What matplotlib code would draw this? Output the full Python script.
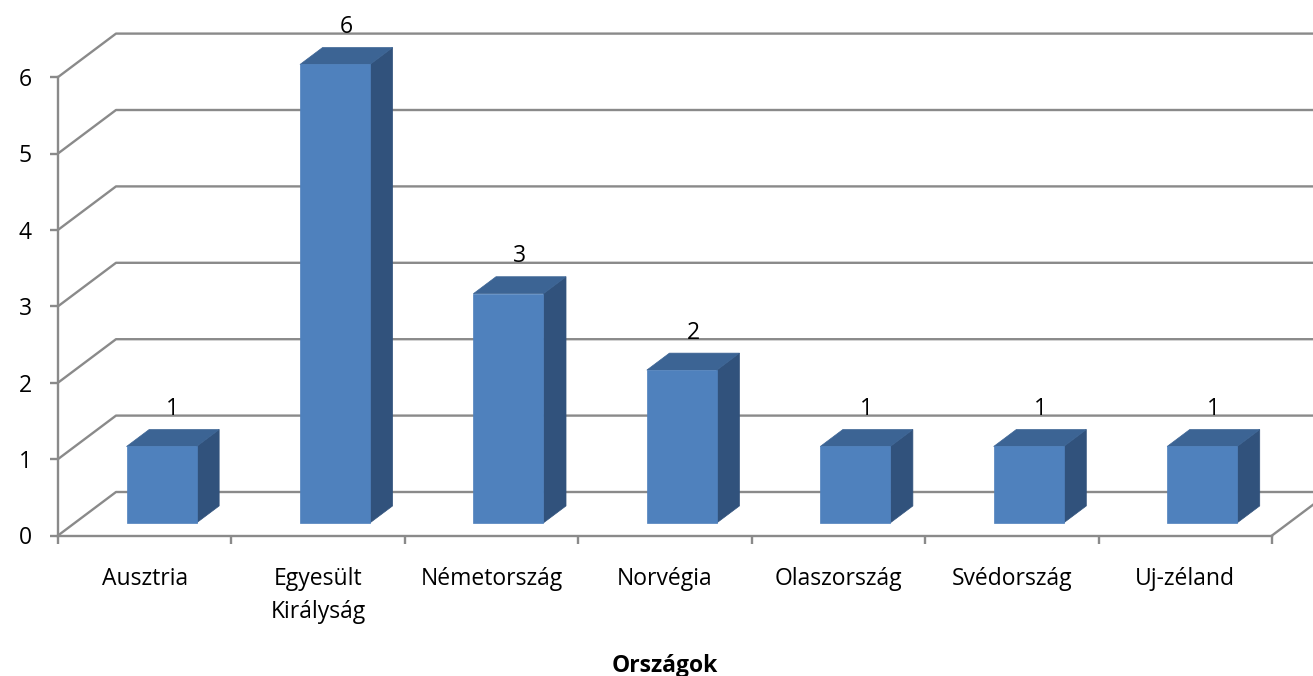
import matplotlib
matplotlib.use('Agg')
import matplotlib.pyplot as plt
from matplotlib.patches import Polygon

# ---- data ----
categories = ['Ausztria', 'Egyesült\nKirályság', 'Németország', 'Norvégia',
              'Olaszország', 'Svédország', 'Uj-zéland']
values = [1, 6, 3, 2, 1, 1, 1]
y_ticks = [0, 1, 2, 3, 4, 5, 6]
x_title = 'Országok'

# ---- style / projection ----
W, H = 1313, 676
PX_X, PX_Y = 173.43, 76.4          # pixels per category / per unit
ORIG_X, ORIG_Y = 58.0, 535.5       # pixel position of the front origin
DEPTH_X, DEPTH_Y = 58.0 / PX_X, 43.5 / PX_Y
F0, F1 = 0.29, 0.68                # bar depth range (fraction of wall depth)
BAR_W = 70.0 / PX_X
GRID = '#8a8a8a'
FRONT, TOP, SIDE = '#4F81BD', '#3C6494', '#31527C'
FONT = 'Open Sans'
FS = 16.5

plt.rcParams['font.family'] = [FONT, 'DejaVu Sans']

fig = plt.figure(figsize=(W / 100, H / 100), dpi=100)
ax = fig.add_axes([0, 0, 1, 1])
ax.set_xlim(-ORIG_X / PX_X, (W - ORIG_X) / PX_X)
ax.set_ylim((ORIG_Y - H) / PX_Y, ORIG_Y / PX_Y)

n = len(categories)

# walls: gridlines on side wall and back wall
for v in y_ticks:
    ax.plot([0, DEPTH_X, n + DEPTH_X], [v, v + DEPTH_Y, v + DEPTH_Y],
            color=GRID, lw=1.7, zorder=1, solid_capstyle='butt')
# floor right edge
ax.plot([n, n + DEPTH_X], [0, DEPTH_Y], color=GRID, lw=1.7, zorder=1)

# bars
bdx = (F1 - F0) * DEPTH_X
bdy = (F1 - F0) * DEPTH_Y
for i, v in enumerate(values):
    cx = i + 0.5
    x0 = cx - BAR_W / 2 + F0 * DEPTH_X
    x1 = x0 + BAR_W
    y0 = F0 * DEPTH_Y
    top = y0 + v
    ax.add_patch(Polygon([(x1, y0), (x1 + bdx, y0 + bdy), (x1 + bdx, top + bdy), (x1, top)],
                         closed=True, facecolor=SIDE, edgecolor=SIDE, lw=0.5, zorder=3))
    ax.add_patch(Polygon([(x0, top), (x1, top), (x1 + bdx, top + bdy), (x0 + bdx, top + bdy)],
                         closed=True, facecolor=TOP, edgecolor=TOP, lw=0.5, zorder=3))
    ax.add_patch(Polygon([(x0, y0), (x1, y0), (x1, top), (x0, top)],
                         closed=True, facecolor=FRONT, edgecolor=FRONT, lw=0.5, zorder=4))
    ax.text((x0 + x1) / 2 + bdx / 2, top + bdy + 0.19, str(v),
            ha='center', va='baseline', fontsize=FS, color='black', zorder=5)

# axes / spines
for s in ('top', 'right'):
    ax.spines[s].set_visible(False)
ax.spines['bottom'].set_position(('data', 0))
ax.spines['left'].set_position(('data', 0))
ax.spines['bottom'].set_bounds(0, n)
ax.spines['left'].set_bounds(0, max(y_ticks))
for s in ('bottom', 'left'):
    ax.spines[s].set_color(GRID)
    ax.spines[s].set_linewidth(1.7)
    ax.spines[s].set_zorder(2)

ax.set_yticks(y_ticks)
ax.set_yticklabels([str(t) for t in y_ticks])
ax.tick_params(axis='y', direction='out', length=6, width=1.7, color=GRID,
               pad=13, labelsize=FS, labelcolor='black')

ax.set_xticks(range(n + 1))
ax.set_xticklabels([])
ax.set_xticks([i + 0.5 for i in range(n)], minor=True)
ax.set_xticklabels(categories, minor=True, linespacing=1.45)
ax.tick_params(axis='x', which='major', direction='out', length=6, width=1.7, color=GRID)
ax.tick_params(axis='x', which='minor', length=0, pad=23, labelsize=FS, labelcolor='black')

ax.set_xlabel(x_title, fontsize=FS, fontweight='bold', color='black')
ax.xaxis.label.set_va('baseline')
ax.xaxis.set_label_coords(665 / W, (H - 672) / H)

fig.savefig('out.png', dpi=100)
